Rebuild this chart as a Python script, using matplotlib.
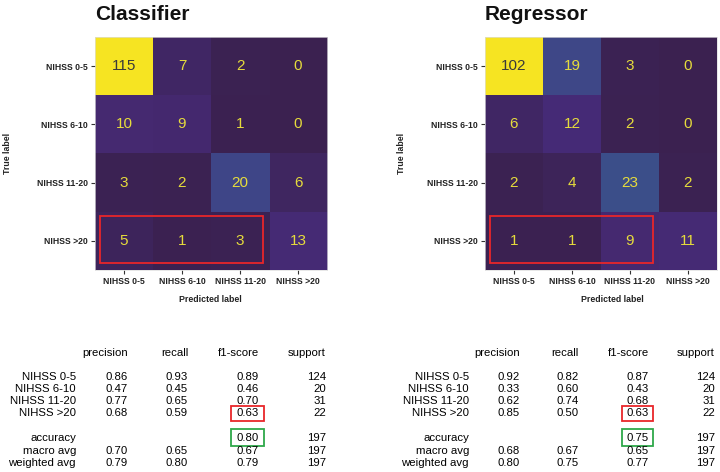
import matplotlib.pyplot as plt
import matplotlib.patches as patches
from matplotlib.colors import LinearSegmentedColormap
import numpy as np

plt.rcParams['font.family'] = ['Liberation Sans', 'DejaVu Sans']

classes = ["NIHSS 0-5", "NIHSS 6-10", "NIHSS 11-20", "NIHSS >20"]

cm_clf = np.array([[115, 7, 2, 0],
                   [10, 9, 1, 0],
                   [3, 2, 20, 6],
                   [5, 1, 3, 13]])
cm_reg = np.array([[102, 19, 3, 0],
                   [6, 12, 2, 0],
                   [2, 4, 23, 2],
                   [1, 1, 9, 11]])

# classification reports
clf_precision = ["0.86", "0.47", "0.77", "0.68"]
clf_recall = ["0.93", "0.45", "0.65", "0.59"]
clf_f1 = ["0.89", "0.46", "0.70", "0.63"]
clf_support = ["124", "20", "31", "22"]
clf_avg = [["accuracy", "", "", "0.80", "197"],
           ["macro avg", "0.70", "0.65", "0.67", "197"],
           ["weighted avg", "0.79", "0.80", "0.79", "197"]]

reg_precision = ["0.92", "0.33", "0.62", "0.85"]
reg_recall = ["0.82", "0.60", "0.74", "0.50"]
reg_f1 = ["0.87", "0.43", "0.68", "0.63"]
reg_support = ["124", "20", "31", "22"]
reg_avg = [["accuracy", "", "", "0.75", "197"],
           ["macro avg", "0.68", "0.67", "0.65", "197"],
           ["weighted avg", "0.80", "0.75", "0.77", "197"]]

# muted viridis, like the screenshot
cmap = LinearSegmentedColormap.from_list("muted_viridis", [
    (0.0, "#3b2150"), (0.03, "#3c2354"), (0.05, "#3f2660"),
    (0.08, "#45296f"), (0.12, "#462b77"), (0.15, "#452d7b"),
    (0.17, "#3f4587"), (0.2, "#3e4a89"), (0.3, "#355f8d"),
    (0.4, "#2a788e"), (0.5, "#21918c"), (0.6, "#22a884"),
    (0.7, "#44bf70"), (0.8, "#7ad151"), (0.9, "#bddf26"),
    (1.0, "#f6e422")])

W, H = 720, 472
fig = plt.figure(figsize=(W / 100, H / 100), dpi=100)


def fx(x):
    return x / W


def fy(y):
    return 1 - y / H


def draw_cm(cm, left, title, ylab_x, xlab_x):
    ax = fig.add_axes([fx(left), fy(270), fx(232), 233 / H])
    ax.imshow(cm, cmap=cmap, aspect="auto")
    vmax = cm.max()
    for i in range(cm.shape[0]):
        for j in range(cm.shape[1]):
            col = "#3a3a3a" if cm[i, j] > vmax / 2 else "#e6dc3c"
            ax.text(j, i, str(cm[i, j]), ha="center", va="center",
                    fontsize=11, color=col)
    ax.set_xticks(range(4))
    ax.set_yticks(range(4))
    ax.set_xticklabels(classes, fontsize=6.2, color="#222", fontweight="bold")
    ax.set_yticklabels(classes, fontsize=6.2, color="#222", fontweight="bold")
    ax.tick_params(length=3, width=0.8, pad=2, color="#333")
    for s in ax.spines.values():
        s.set_linewidth(0.5)
        s.set_color("#dddddd")
    ax.add_patch(patches.Rectangle((-0.41, 2.57), 2.8, 0.81, fill=False,
                                   edgecolor="#e8262a", lw=1.3))
    fig.text(fx(left), fy(14), title, fontsize=15, fontweight="bold",
             ha="left", va="center", color="#111")
    fig.text(fx(ylab_x), fy(153), "True label", rotation=90, fontsize=6.3,
             fontweight="bold", ha="center", va="center", color="#222")
    fig.text(fx(xlab_x), fy(299), "Predicted label", fontsize=6.3,
             fontweight="bold", ha="center", va="center", color="#222")


def draw_report(ox, cols, prec, rec, f1, sup, avg, box_x):
    fs = 8.2
    headers = ["precision", "recall", "f1-score", "support"]
    for h, c in zip(headers, cols[1:]):
        fig.text(fx(ox + c), fy(353), h, fontsize=fs, ha="right", va="center")
    ys = [377, 389, 401, 413]
    for k in range(4):
        vals = [classes[k], prec[k], rec[k], f1[k], sup[k]]
        for v, c in zip(vals, cols):
            fig.text(fx(ox + c), fy(ys[k]), v, fontsize=fs, ha="right",
                     va="center")
    for k, row in enumerate(avg):
        for v, c in zip(row, cols):
            fig.text(fx(ox + c), fy(438 + 12.5 * k), v, fontsize=fs,
                     ha="right", va="center")
    for (y0, y1, colr) in [(406, 421, "#e8262a"), (429, 446, "#2ea84a")]:
        fig.patches.append(patches.Rectangle(
            (fx(ox + box_x[0]), fy(y1)), fx(box_x[1] - box_x[0]),
            (y1 - y0) / H, fill=False, edgecolor=colr, lw=1.3,
            transform=fig.transFigure, figure=fig))


draw_cm(cm_clf, 95, "Classifier", 7, 210)
draw_cm(cm_reg, 485, "Regressor", 401, 612)

draw_report(0, [76, 128, 188, 259, 326], clf_precision, clf_recall, clf_f1,
            clf_support, clf_avg, (231, 264))
draw_report(360, [109, 160, 219, 289, 355], reg_precision, reg_recall, reg_f1,
            reg_support, reg_avg, (262, 293))

fig.savefig("out.png", dpi=100)
